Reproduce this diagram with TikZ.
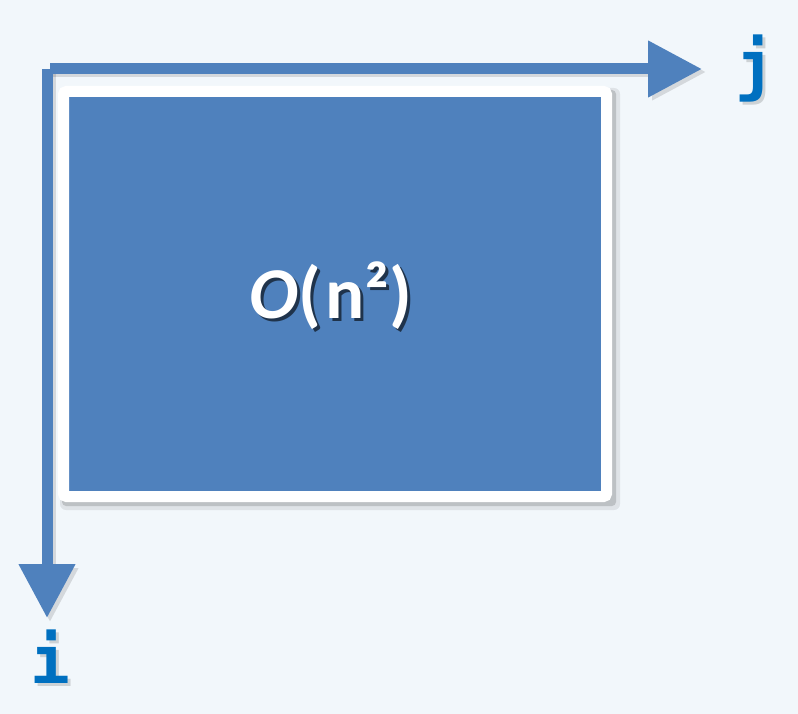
\documentclass[tikz,border=0pt]{standalone}
\usepackage{fontspec}
\setmainfont{Carlito}
\newfontfamily\monofnt{DejaVu Sans Mono}
\usetikzlibrary{arrows.meta}
\definecolor{bgc}{HTML}{F2F7FB}
\definecolor{axisc}{HTML}{4F81BD}
\definecolor{labc}{HTML}{0070C0}
\tikzset{
  axis/.style={draw=axisc, line width=11pt, -{Triangle[length=54pt,width=54pt]}},
  axisshadow/.style={draw=black, opacity=0.12, line width=11pt, -{Triangle[length=54pt,width=54pt]}},
  lab/.style={text=labc, font=\monofnt\bfseries\fontsize{66}{66}\selectfont, inner sep=0pt},
  labshadow/.style={text=black, opacity=0.15, font=\monofnt\bfseries\fontsize{66}{66}\selectfont, inner sep=0pt},
  cplx/.style={text=white, font=\bfseries\fontsize{73}{73}\selectfont, inner sep=0pt},
  cplxshadow/.style={text=black, opacity=0.6, font=\bfseries\fontsize{73}{73}\selectfont, inner sep=0pt},
}
\begin{document}
\begin{tikzpicture}[x=1pt,y=-1pt]
\fill[bgc] (0,0) rectangle (798,714);
\useasboundingbox (0,0) rectangle (798,714);
% axes shadows
\draw[axisshadow] (53,72) -- (706,72);
\draw[axisshadow] (50,72) -- (50,622);
% box shadow
\fill[black, opacity=0.08, rounded corners=6pt] (60,88) rectangle (620,510);
\fill[black, opacity=0.15, rounded corners=4pt] (62,90) rectangle (616,506);
% box
\node[draw=white, line width=11pt, fill=axisc, minimum width=543pt, minimum height=405pt, inner sep=0pt, rounded corners=3pt] (box) at (335,294) {};
% axes
\coordinate (jend) at (702,69);
\coordinate (iend) at (47,618);
\coordinate (jstart) at (50,69);
\coordinate (istart) at (47,69);
\draw[axis] (jstart) -- (jend);
\draw[axis] (istart) -- (iend);
% labels
\node[labshadow] at (758,72) {j};
\node[lab] (j) at (755,69) {j};
\node[labshadow] at (53,660) {i};
\node[lab] (i) at (50,657) {i};
% complexity
\node[cplxshadow] at (334,299) {\itshape O\upshape(\kern0.06em n²)};
\node[cplx] (c) at (331,296) {\itshape O\upshape(\kern0.06em n²)};
\end{tikzpicture}
\end{document}
